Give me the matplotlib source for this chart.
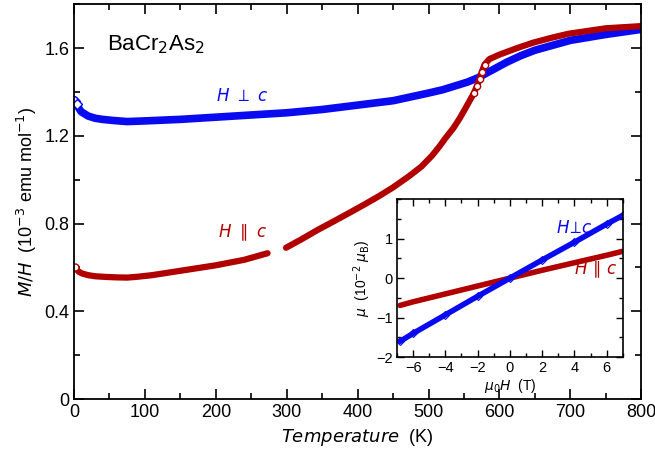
import numpy as np
import matplotlib
matplotlib.use("Agg")
import matplotlib.pyplot as plt
from matplotlib.ticker import MultipleLocator

# ---- main panel data: M/H vs T (10^-3 emu/mol) ----
temp_perp = [2, 4, 6, 10, 15, 20, 30, 40, 55, 75, 100, 150, 200, 250, 300, 350,
             400, 450, 500, 520, 540, 555, 570, 590, 610, 630, 650, 700, 750, 800]
mh_perp = [1.36, 1.345, 1.33, 1.31, 1.30, 1.29, 1.28, 1.275, 1.27, 1.265, 1.268,
           1.275, 1.285, 1.295, 1.305, 1.32, 1.34, 1.36, 1.395, 1.41, 1.43,
           1.445, 1.465, 1.50, 1.535, 1.565, 1.59, 1.635, 1.662, 1.685]

temp_par = [2, 4, 7, 12, 20, 30, 45, 60, 75, 90, 110, 150, 200, 240, 273,
            285,
            299, 320, 343, 365, 390, 410, 430, 450, 472, 490, 505, 515, 524,
            535, 544, 552, 558, 564, 568, 572, 575, 579, 586, 600, 625, 648,
            675, 697, 750, 800]
mh_par = [0.60, 0.59, 0.58, 0.572, 0.565, 0.56, 0.557, 0.555, 0.554, 0.558,
          0.565, 0.585, 0.61, 0.635, 0.665,
          np.nan,
          0.69, 0.727, 0.77, 0.808, 0.852, 0.888, 0.925, 0.965, 1.015, 1.06,
          1.11, 1.15, 1.19, 1.235, 1.28, 1.325, 1.36, 1.395, 1.425, 1.46,
          1.49, 1.525, 1.55, 1.57, 1.60, 1.625, 1.648, 1.665, 1.69, 1.70]

# ---- inset data: moment vs field (10^-2 mu_B) ----
field = [-6.8, -6, -4, -2, 0, 2, 4, 6, 7]
mu_perp = [-1.60, -1.40, -0.93, -0.46, 0.0, 0.46, 0.91, 1.37, 1.59]
mu_par = [-0.69, -0.60, -0.40, -0.20, 0.0, 0.20, 0.39, 0.58, 0.68]

blue = "#0a0af0"
red = "#b00000"

plt.rcParams["font.family"] = ["Liberation Sans", "DejaVu Sans"]
plt.rcParams["mathtext.fontset"] = "dejavusans"

fig = plt.figure(figsize=(6.55, 4.62), dpi=100)
ax = fig.add_axes([0.113, 0.136, 0.866, 0.855])

ax.plot(temp_perp, mh_perp, color=blue, lw=5.5, solid_capstyle="round")
ax.plot(temp_par, mh_par, color=red, lw=4.5, solid_capstyle="round")
# first low-temperature points show as separate open symbols
ax.plot(temp_perp[:2], mh_perp[:2], ls="none", marker="D", ms=5, mfc="white",
        mec=blue, mew=1.0)
ax.plot(temp_par[:1], mh_par[:1], ls="none", marker="o", ms=5, mfc="white",
        mec=red, mew=1.0)
ax.plot(temp_par[33:38], mh_par[33:38], ls="none", marker="o", ms=4.5, mfc="white",
        mec=red, mew=1.0)

ax.set_xlim(0, 800)
ax.set_ylim(0, 1.8)
ax.xaxis.set_major_locator(MultipleLocator(100))
ax.xaxis.set_minor_locator(MultipleLocator(50))
ax.yaxis.set_major_locator(MultipleLocator(0.4))
ax.yaxis.set_minor_locator(MultipleLocator(0.2))
ax.yaxis.set_major_formatter(plt.FuncFormatter(lambda v, p: "0" if v == 0 else f"{v:.1f}"))
ax.tick_params(which="both", direction="in", top=True, right=True, width=1.2)
ax.tick_params(which="major", length=7, labelsize=13)
ax.tick_params(which="minor", length=4)
for s in ax.spines.values():
    s.set_linewidth(1.3)

ax.set_xlabel(r"$\mathit{Temperature}$  (K)", fontsize=13)
ax.set_ylabel(r"$M/H$  (10$^{-3}$ emu mol$^{-1}$)", fontsize=13)

ax.text(47, 1.615, r"BaCr$_2$As$_2$", fontsize=16, va="center", ha="left")
ax.text(237, 1.385, r"$H\ \perp\ c$", color=blue, fontsize=12, ha="center", va="center")
ax.text(237, 0.757, r"$H\ \parallel\ c$", color=red, fontsize=12, ha="center", va="center")

# ---- inset ----
ins = fig.add_axes([0.606, 0.227, 0.345, 0.342])
ins.plot(field, mu_par, color=red, lw=4, solid_capstyle="round")
ins.plot(field, mu_perp, color=blue, lw=4, marker="D", ms=4, mfc="none",
         mec=blue, mew=0.8, solid_capstyle="round")
ins.set_xlim(-7, 7)
ins.set_ylim(-2, 2)
ins.set_yticks([-2, -1, 0, 1])
ins.xaxis.set_major_locator(MultipleLocator(2))
ins.xaxis.set_minor_locator(MultipleLocator(1))
ins.yaxis.set_minor_locator(MultipleLocator(0.5))
ins.tick_params(which="both", direction="in", top=True, right=True, width=1.0)
ins.tick_params(which="major", length=5, labelsize=10.5, pad=3)
ins.tick_params(which="minor", length=3)
for s in ins.spines.values():
    s.set_linewidth(1.2)
ins.set_xlabel(r"$\mu_0H$  (T)", fontsize=10, labelpad=1)
ins.set_ylabel(r"$\mu$  (10$^{-2}$ $\mu_{\rm B}$)", fontsize=10, labelpad=2)
ins.text(4.0, 1.27, r"$H\!\perp\!c$", color=blue, fontsize=12, ha="center", va="center")
ins.text(5.3, 0.21, r"$H\,\parallel\, c$", color=red, fontsize=12, ha="center", va="center")

fig.savefig("out.png", dpi=100)
